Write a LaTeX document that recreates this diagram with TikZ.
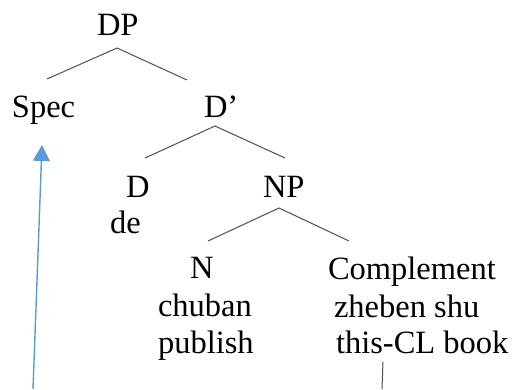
\documentclass[tikz,border=0pt]{standalone}
\usepackage{fontspec}
\setmainfont{Liberation Serif}
\usetikzlibrary{arrows.meta}
\definecolor{branch}{HTML}{4A4E5C}
\definecolor{movblue}{HTML}{5B9BD5}
\begin{document}
\begin{tikzpicture}[x=1pt,y=-1pt,
  lbl/.style={anchor=base west,inner sep=0pt,outer sep=0pt,font=\fontsize{32.5}{39}\selectfont,text=black},
  branchline/.style={draw=branch,line width=1pt},
  movearrow/.style={draw=movblue,line width=1.4pt,-{Triangle[width=17pt,length=16pt]}}]
\useasboundingbox (0,0) rectangle (512,389);
% labels
\node[lbl] (dp) at (97,35) {DP};
\node[lbl] (spec) at (12,117) {Spec};
\node[lbl] (dbar) at (204,117) {D’};
\node[lbl] (d) at (126,197) {D};
\node[lbl] (de) at (110,233) {de};
\node[lbl] (np) at (263,197) {NP};
\node[lbl] (n) at (190,278) {N};
\node[lbl] (chuban) at (158,316) {chuban};
\node[lbl] (publish) at (158,353) {publish};
\node[lbl] (comp) at (328,279) {Complement};
\node[lbl] (zheben) at (334,317) {zheben shu};
\node[lbl] (gloss) at (336,353) {this-CL book};
% branch points
\coordinate (dpTop) at (117,48);
\coordinate (specEnd) at (47,79);
\coordinate (dbarEnd) at (187,80);
\coordinate (dbarTop) at (215,126);
\coordinate (dEnd) at (145,158);
\coordinate (npEnd) at (285,158);
\coordinate (npTop) at (279,208);
\coordinate (nEnd) at (208,241);
\coordinate (compEnd) at (349,241);
% branches
\draw[branchline] (specEnd) -- (dpTop) -- (dbarEnd);
\draw[branchline] (dEnd) -- (dbarTop) -- (npEnd);
\draw[branchline] (nEnd) -- (npTop) -- (compEnd);
% movement
\coordinate (moveStart) at (33,389);
\coordinate (moveTip) at (42,145);
\draw[movearrow] (moveStart) -- (moveTip);
\coordinate (traceTop) at (383,362);
\coordinate (traceBottom) at (382,389);
\draw[branchline] (traceTop) -- (traceBottom);
\end{tikzpicture}
\end{document}
